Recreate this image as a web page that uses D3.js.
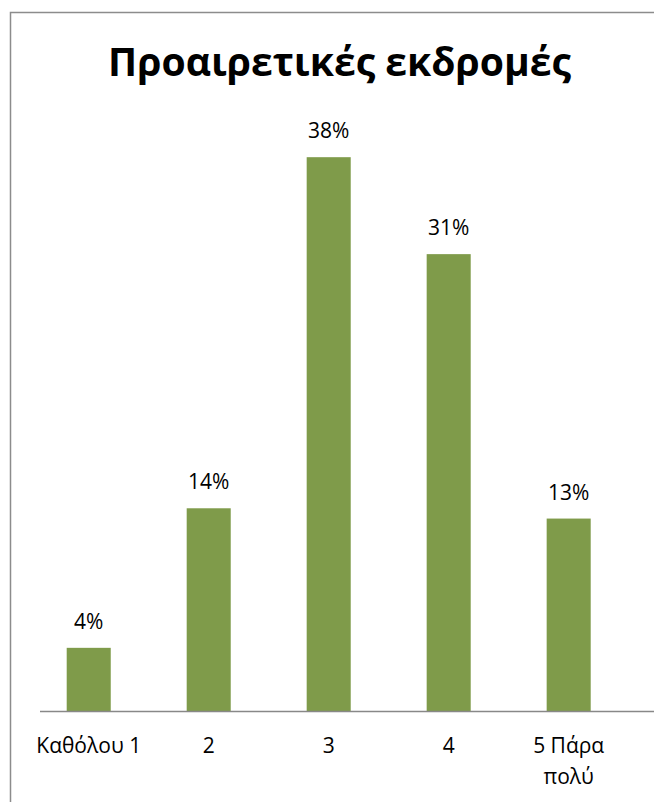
<!DOCTYPE html>
<html><head><meta charset="utf-8">
<script src="https://cdn.jsdelivr.net/npm/d3@7"></script>
<style>html,body{margin:0;padding:0;background:#fff;overflow:hidden}</style>
</head><body>
<script>
const title = "Προαιρετικές εκδρομές";
const categories = ["Καθόλου 1", "2", "3", "4", "5 Πάρα πολύ"];
const categoryLines = [["Καθόλου 1"], ["2"], ["3"], ["4"], ["5 Πάρα", "πολύ"]];
const values = [4.3, 13.8, 37.7, 31.1, 13.1];
const valueLabels = ["4%", "14%", "38%", "31%", "13%"];

const W = 654, H = 802;
const svg = d3.select("body").append("svg").attr("width", W).attr("height", H);
svg.append("rect").attr("x", 10.5).attr("y", 12.5).attr("width", 700).attr("height", 900)
  .attr("fill", "#fff").attr("stroke", "#8c8c8c").attr("stroke-width", 1.5);

const font = "'Open Sans', sans-serif";
const t = svg.append("text").attr("x", 339.5).attr("y", 76).attr("text-anchor", "middle")
  .attr("font-family", font).attr("font-weight", "bold").attr("font-size", 40).attr("fill", "#000").text(title);
const tw = t.node().getComputedTextLength();
t.attr("font-size", 40 * 463 / tw);

const x = d3.scaleBand().domain(categories).range([28.7, 628.7]).paddingInner(0.633).paddingOuter(0.3167);
const y = d3.scaleLinear().domain([0, 40]).range([711, 123.4]);

svg.selectAll("rect.bar").data(values).join("rect").attr("class", "bar")
  .attr("x", (d, i) => x(categories[i])).attr("width", x.bandwidth())
  .attr("y", d => y(d)).attr("height", d => y(0) - y(d)).attr("fill", "#7f9b4a");

const ax = svg.append("g").attr("transform", `translate(0,${y(0)})`)
  .call(d3.axisBottom(x).tickSize(0).tickFormat(""));
ax.select(".domain").remove();
ax.append("line").attr("x1", 40).attr("x2", W).attr("y1", 0.5).attr("y2", 0.5)
  .attr("stroke", "#888").attr("stroke-width", 1.5);

svg.selectAll("text.vl").data(values).join("text").attr("class", "vl")
  .attr("x", (d, i) => x(categories[i]) + x.bandwidth() / 2).attr("y", d => y(d) - 19)
  .attr("text-anchor", "middle").attr("font-family", font).attr("font-size", 21).attr("fill", "#000")
  .text((d, i) => valueLabels[i]);

categoryLines.forEach((lines, i) => {
  lines.forEach((ln, j) => {
    svg.append("text").attr("x", x(categories[i]) + x.bandwidth() / 2).attr("y", 753 + j * 31)
      .attr("text-anchor", "middle").attr("font-family", font).attr("font-size", 21).attr("fill", "#000").text(ln);
  });
});
</script>
</body></html>
